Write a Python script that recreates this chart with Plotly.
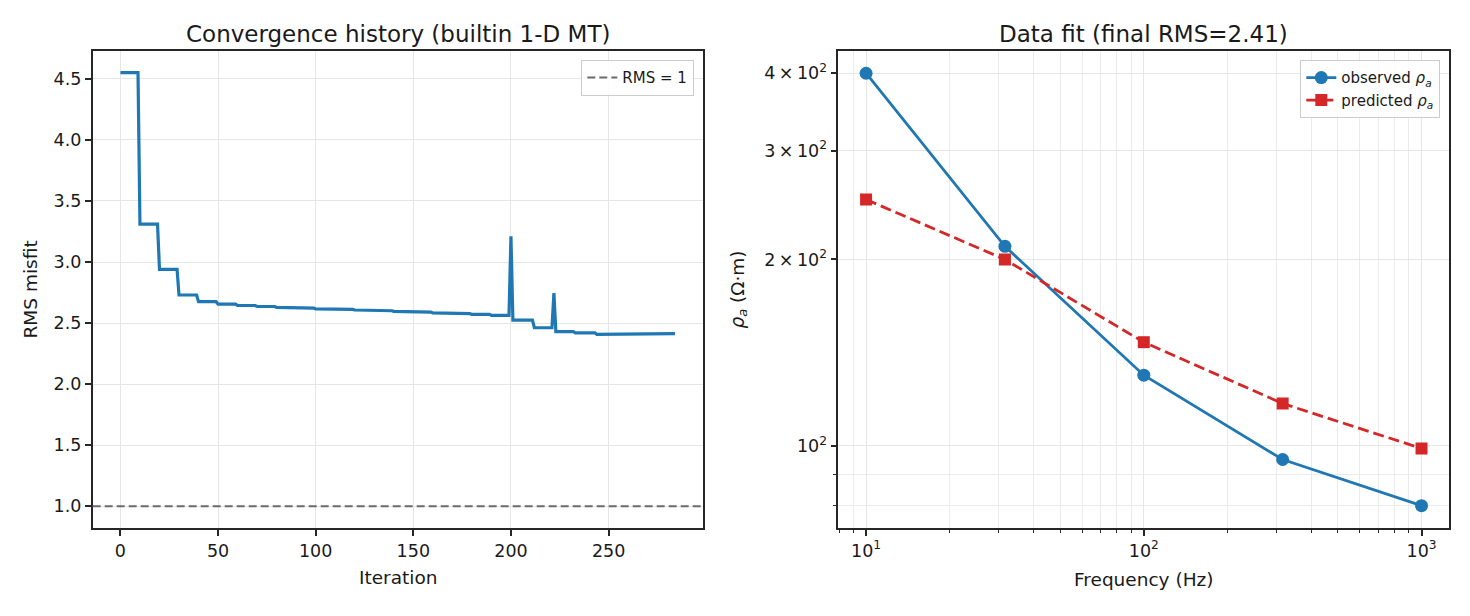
import plotly.graph_objects as go

# ---------------- data ----------------
iterations = list(range(285))
rms_history = [
    4.55, 4.55, 4.55, 4.55, 4.55, 4.55, 4.55, 4.55, 4.55, 4.55,
    3.31, 3.31, 3.31, 3.31, 3.31, 3.31, 3.31, 3.31, 3.31, 3.31,
    2.94, 2.94, 2.94, 2.94, 2.94, 2.94, 2.94, 2.94, 2.94, 2.94,
    2.73, 2.73, 2.73, 2.73, 2.73, 2.73, 2.73, 2.73, 2.73, 2.73,
    2.675, 2.675, 2.675, 2.675, 2.675, 2.675, 2.675, 2.675, 2.675, 2.675,
    2.655, 2.655, 2.655, 2.655, 2.655, 2.655, 2.655, 2.655, 2.655, 2.655,
    2.644, 2.644, 2.644, 2.644, 2.644, 2.644, 2.644, 2.644, 2.644, 2.644,
    2.636, 2.636, 2.636, 2.636, 2.636, 2.636, 2.636, 2.636, 2.636, 2.636,
    2.628, 2.628, 2.628, 2.628, 2.628, 2.628, 2.628, 2.628, 2.628, 2.628,
    2.622, 2.622, 2.622, 2.622, 2.622, 2.622, 2.622, 2.622, 2.622, 2.622,
    2.617, 2.617, 2.617, 2.617, 2.617, 2.617, 2.617, 2.617, 2.617, 2.617,
    2.612, 2.612, 2.612, 2.612, 2.612, 2.612, 2.612, 2.612, 2.612, 2.612,
    2.607, 2.607, 2.607, 2.607, 2.607, 2.607, 2.607, 2.607, 2.607, 2.607,
    2.601, 2.601, 2.601, 2.601, 2.601, 2.601, 2.601, 2.601, 2.601, 2.601,
    2.596, 2.596, 2.596, 2.596, 2.596, 2.596, 2.596, 2.596, 2.596, 2.596,
    2.590, 2.590, 2.590, 2.590, 2.590, 2.590, 2.590, 2.590, 2.590, 2.590,
    2.583, 2.583, 2.583, 2.583, 2.583, 2.583, 2.583, 2.583, 2.583, 2.583,
    2.577, 2.577, 2.577, 2.577, 2.577, 2.577, 2.577, 2.577, 2.577, 2.577,
    2.571, 2.571, 2.571, 2.571, 2.571, 2.571, 2.571, 2.571, 2.571, 2.571,
    2.563, 2.563, 2.563, 2.563, 2.563, 2.563, 2.563, 2.563, 2.563, 2.563,
    3.21,
    2.525, 2.525, 2.525, 2.525, 2.525, 2.525, 2.525, 2.525, 2.525, 2.525, 2.525,
    2.462, 2.462, 2.462, 2.462, 2.462, 2.462, 2.462, 2.462, 2.462, 2.462,
    2.745,
    2.43, 2.43, 2.43, 2.43, 2.43, 2.43, 2.43, 2.43, 2.43, 2.43,
    2.42, 2.42, 2.42, 2.42, 2.42, 2.42, 2.42, 2.42, 2.42, 2.42, 2.42,
    2.407, 2.407, 2.407, 2.407, 2.407, 2.407, 2.407, 2.407, 2.407, 2.407,
    2.413, 2.413, 2.413, 2.413, 2.413, 2.413, 2.413, 2.413, 2.413, 2.413,
    2.413, 2.413, 2.413, 2.413, 2.413, 2.413, 2.413, 2.413, 2.413, 2.413,
    2.413, 2.413, 2.413, 2.413, 2.413, 2.413, 2.413, 2.413, 2.413, 2.413,
    2.413,
]
rms_target = 1.0

frequency_hz = [10, 31.62, 100, 316.2, 1000]
rho_observed = [400, 210, 130, 95, 80]
rho_predicted = [250, 200, 147, 117, 99]

left_xticks = [0, 50, 100, 150, 200, 250]
left_yticks = [1.0, 1.5, 2.0, 2.5, 3.0, 3.5, 4.0, 4.5]
freq_ticks = [10, 100, 1000]
freq_ticklabels = ["10<sup>1</sup>", "10<sup>2</sup>", "10<sup>3</sup>"]
freq_minor = [8, 9, 20, 30, 40, 50, 60, 70, 80, 90,
              200, 300, 400, 500, 600, 700, 800, 900]
rho_ticks = [100, 200, 300, 400]
rho_ticklabels = ["10<sup>2</sup>", "2\u2009×\u200910<sup>2</sup>",
                  "3\u2009×\u200910<sup>2</sup>", "4\u2009×\u200910<sup>2</sup>"]
rho_minor = [80, 90]

# ---------------- layout helpers ----------------
W, H = 1470, 616
OFF = 8  # page body margin offset in the browser
def fx(p):
    return (p - OFF) / W
def fy(p):
    return 1 - (p - OFF) / H

FONT = "DejaVu Sans"
INK = "#1a1a1a"
SPINE = "#262626"
GRID = "#e6e6e6"

axis_common = dict(
    showline=True, linecolor=SPINE, linewidth=1.6, mirror=True,
    ticks="outside", ticklen=6, tickwidth=1.5, tickcolor=SPINE,
    showgrid=True, gridcolor=GRID, gridwidth=1.3, zeroline=False,
    tickfont=dict(family=FONT, size=17.5, color=INK),
)

fig = go.Figure()

fig.add_trace(go.Scatter(
    x=iterations, y=rms_history, mode="lines",
    line=dict(color="#1f77b4", width=3.2),
    showlegend=False, xaxis="x", yaxis="y", hoverinfo="skip",
))

fig.add_shape(
    type="line", xref="x domain", yref="y", x0=0, x1=1,
    y0=rms_target, y1=rms_target,
    line=dict(color="#6b6b6b", width=2, dash="8px,4px"),
    showlegend=True, name="RMS = 1", legend="legend",
)

fig.add_trace(go.Scatter(
    x=frequency_hz, y=rho_observed, mode="lines+markers",
    name="observed <i>ρ</i><sub><i>a</i></sub>",
    line=dict(color="#1f77b4", width=2.8),
    marker=dict(symbol="circle", size=13, color="#1f77b4"),
    xaxis="x2", yaxis="y2", legend="legend2",
))
fig.add_trace(go.Scatter(
    x=frequency_hz, y=rho_predicted, mode="lines+markers",
    name="predicted <i>ρ</i><sub><i>a</i></sub>",
    line=dict(color="#d62728", width=2.8, dash="11px,5px"),
    marker=dict(symbol="square", size=12, color="#d62728"),
    xaxis="x2", yaxis="y2", legend="legend2",
))

ydom = [fy(528), fy(51)]
fig.update_layout(
    width=W, height=H,
    margin=dict(l=0, r=0, t=0, b=0),
    paper_bgcolor="white", plot_bgcolor="white",
    font=dict(family=FONT, color=INK),
    xaxis=dict(domain=[fx(92.7), fx(702.7)], anchor="y",
               range=[-14.2, 298.2], tickmode="array", tickvals=left_xticks,
               **axis_common),
    yaxis=dict(domain=ydom, anchor="x",
               range=[0.8225, 4.7275], tickmode="array", tickvals=left_yticks,
               tickformat=".1f", **axis_common),
    xaxis2=dict(domain=[fx(838.3), fx(1449.3)], anchor="y2", type="log",
                range=[0.9, 3.1], tickmode="array", tickvals=freq_ticks,
                ticktext=freq_ticklabels,
                minor=dict(tickmode="array", tickvals=freq_minor, ticks="outside",
                           ticklen=3.5, tickwidth=1.2, tickcolor=SPINE,
                           showgrid=True, gridcolor="#ebebeb", gridwidth=1.1),
                **axis_common),
    yaxis2=dict(domain=ydom, anchor="x2", type="log",
                range=[1.867, 2.638], tickmode="array", tickvals=rho_ticks,
                ticktext=rho_ticklabels,
                minor=dict(tickmode="array", tickvals=rho_minor, ticks="outside",
                           ticklen=3.5, tickwidth=1.2, tickcolor=SPINE,
                           showgrid=True, gridcolor="#ebebeb", gridwidth=1.1),
                **axis_common),
    legend=dict(x=fx(694), y=fy(60), xanchor="right", yanchor="top",
                bgcolor="rgba(255,255,255,0.85)", bordercolor="#cccccc",
                borderwidth=1.3, font=dict(family=FONT, size=15, color=INK),
                itemwidth=30),
    legend2=dict(x=fx(1440), y=fy(60), xanchor="right", yanchor="top",
                 bgcolor="rgba(255,255,255,0.85)", bordercolor="#cccccc",
                 borderwidth=1.3, font=dict(family=FONT, size=15, color=INK),
                 itemwidth=30),
)

annotations = [
    dict(text="Convergence history (builtin 1-D MT)", x=fx(397.7), y=fy(34),
         font=dict(size=23)),
    dict(text="Data fit (final RMS=2.41)", x=fx(1143.8), y=fy(34),
         font=dict(size=23)),
    dict(text="Iteration", x=fx(397.7), y=fy(577), font=dict(size=18.5)),
    dict(text="Frequency (Hz)", x=fx(1143.8), y=fy(579), font=dict(size=18.5)),
    dict(text="RMS misfit", x=fx(30), y=fy(289.5), textangle=-90,
         font=dict(size=18.5)),
    dict(text="<i>ρ</i><sub><i>a</i></sub> (Ω·m)", x=fx(739), y=fy(289.5),
         textangle=-90, font=dict(size=18.5)),
]
for a in annotations:
    a.update(xref="paper", yref="paper", showarrow=False,
             xanchor="center", yanchor="middle")
    a["font"].update(family=FONT, color=INK)
fig.update_layout(annotations=annotations)

fig.write_html("out.html")
